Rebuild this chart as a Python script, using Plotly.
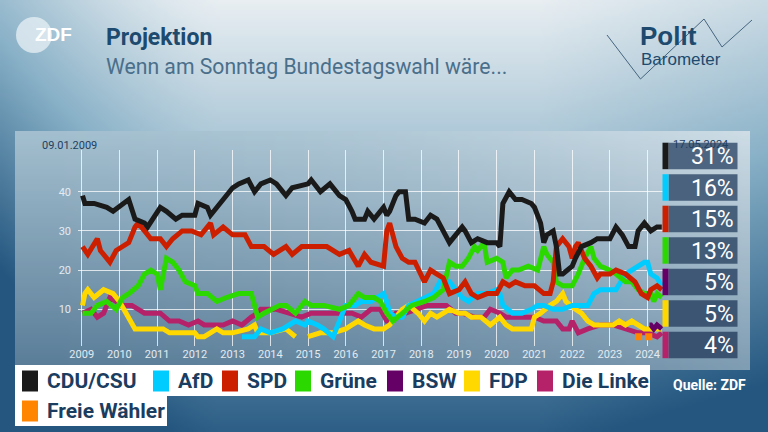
import zlib, struct, base64, datetime as dt
import plotly.graph_objects as go

# ---------------- data ----------------
cdu_dates = ["2009-01-09","2009-02","2009-05","2009-09","2009-11","2010-02","2010-04","2010-06","2010-09","2010-10",
             "2011-02","2011-04","2011-07","2011-09","2012-01","2012-02","2012-05","2012-06","2012-09","2012-11",
             "2013-01","2013-03","2013-06","2013-08","2013-10","2014-01","2014-03","2014-06","2014-08","2015-01",
             "2015-02","2015-05","2015-08","2015-11","2016-01","2016-03","2016-04","2016-07","2016-08","2016-10",
             "2017-01","2017-02","2017-03","2017-05","2017-06","2017-08","2017-09","2017-11","2018-02","2018-04",
             "2018-06","2018-08","2018-10","2018-12","2019-02","2019-03","2019-05","2019-07","2019-10","2020-01",
             "2020-02","2020-03","2020-05","2020-07","2020-09","2020-12","2021-01","2021-03","2021-04","2021-05",
             "2021-07","2021-08","2021-09","2021-10","2022-01","2022-02","2022-04","2022-07","2022-09","2023-01",
             "2023-03","2023-05","2023-07","2023-09","2023-10","2023-12","2024-02","2024-04","2024-05-17"]
cdu_vals = [39,37,37,36,35,37,38,33,32,31,
            36,35,33,34,34,37,36,34,37,39,
            41,42,43,40,42,43,42,39,41,42,
            43,40,42,39,38,35,33,33,35,33,
            36,34,35,39,40,40,33,33,32,34,
            33,30,27,29,31,30,27,28,27,27,
            26,37,40,38,38,37,36,32,27,29,
            30,26,19,19,21,23,26,27,28,28,
            31,29,26,26,30,32,30,31,31]

spd_dates = ["2009-01-09","2009-03","2009-06","2009-07","2009-09","2009-10","2009-12","2010-02","2010-04","2010-06",
             "2010-07","2010-09","2010-11","2011-02","2011-04","2011-06","2011-09","2011-12","2012-03","2012-06",
             "2012-07","2012-10","2013-01","2013-05","2013-07","2013-11","2014-02","2014-06","2014-08","2014-11",
             "2015-02","2015-07","2015-11","2016-02","2016-05","2016-07","2016-09","2017-01","2017-02","2017-03",
             "2017-05","2017-07","2017-09","2017-11","2018-02","2018-04","2018-06","2018-08","2018-10","2019-01",
             "2019-03","2019-05","2019-07","2019-10","2020-01","2020-03","2020-05","2020-07","2020-10","2021-01",
             "2021-04","2021-06","2021-07","2021-08","2021-10","2021-12","2022-01","2022-02","2022-03","2022-05",
             "2022-07","2022-09","2022-10","2023-01","2023-03","2023-06","2023-09","2023-11","2024-01","2024-02",
             "2024-04","2024-05-17"]
spd_vals = [26,24,28,25,23,22,25,26,27,31,
            32,30,28,28,26,28,30,30,29,32,
            29,31,29,29,26,26,24,26,24,26,
            26,26,24,25,21,24,22,21,30,32,
            26,23,22,22,17,20,19,18,14,15,
            17,14,13,14,14,17,16,17,16,16,
            14,14,17,26,28,26,23,26,27,23,
            21,18,19,19,20,19,17,14,13,15,
            16,15]

gruene_dates = ["2009-01-09","2009-04","2009-06","2009-09","2009-12","2010-02","2010-04","2010-07","2010-09","2010-11",
                "2011-01","2011-02","2011-04","2011-06","2011-08","2011-10","2012-01","2012-02","2012-05","2012-08",
                "2012-11","2013-03","2013-07","2013-09","2013-11","2014-04","2014-06","2014-09","2014-12","2015-02",
                "2015-06","2015-11","2016-02","2016-05","2016-07","2016-10","2016-12","2017-02","2017-04","2017-07",
                "2017-10","2018-02","2018-05","2018-08","2018-10","2018-12","2019-02","2019-04","2019-06","2019-07",
                "2019-09","2019-10","2020-01","2020-03","2020-04","2020-06","2020-08","2020-11","2021-02","2021-04",
                "2021-05","2021-07","2021-08","2021-10","2022-01","2022-03","2022-05","2022-07","2022-08","2022-10",
                "2023-01","2023-03","2023-06","2023-08","2023-10","2023-12","2024-02","2024-03","2024-04","2024-05-17"]
gruene_vals = [9,9,11,12,10,13,14,16,19,20,
               19,15,23,22,20,17,16,14,14,12,
               13,14,14,8,9,11,11,9,12,11,
               11,10,11,14,13,13,12,9,7,9,
               11,12,13,15,22,21,21,23,26,25,
               27,22,23,22,18,20,20,21,20,26,
               24,22,17,16,16,19,23,26,23,21,
               20,19,17,17,15,14,14,12,14,13]

afd_dates = ["2013-04","2013-08","2013-10","2014-01","2014-05","2014-07","2014-09","2014-12","2015-01","2015-04",
             "2015-06","2015-09","2015-11","2016-01","2016-04","2016-06","2016-09","2016-11","2017-01","2017-02",
             "2017-03","2017-05","2017-07","2017-09","2017-12","2018-02","2018-05","2018-07","2018-10","2018-12",
             "2019-02","2019-04","2019-07","2019-10","2020-01","2020-02","2020-03","2020-06","2020-09","2020-12",
             "2021-02","2021-04","2021-07","2021-10","2022-01","2022-03","2022-06","2022-08","2022-10","2023-01",
             "2023-03","2023-06","2023-08","2023-10","2023-12","2024-01","2024-02","2024-04","2024-05-17"]
afd_vals = [3,3,5,4,5,6,7,6,7,6,
            5,3,7,11,11,12,12,13,14,12,
            9,8,8,11,12,13,14,17,17,15,
            13,12,14,14,15,14,11,9,9,10,
            11,11,10,10,11,11,11,14,15,15,
            15,19,20,21,22,22,19,18,16]

fdp_dates = ["2009-01-09","2009-02","2009-03","2009-05","2009-08","2009-11","2010-01","2010-03","2010-05","2010-06",
             "2011-03","2011-05","2012-01","2012-02","2012-04","2012-06","2012-08","2012-10","2013-01","2013-06",
             "2013-08","2013-09","2014-01","2014-06","2014-09","2014-10","2015-01","2015-05","2015-09","2016-01",
             "2016-03","2016-05","2016-07","2016-10","2017-01","2017-03","2017-05","2017-07","2017-09","2017-12",
             "2018-02","2018-04","2018-06","2018-08","2018-10","2019-01","2019-03","2019-05","2019-08","2019-11",
             "2020-02","2020-04","2020-06","2020-09","2020-12","2021-01","2021-03","2021-06","2021-08","2021-10",
             "2021-11","2022-02","2022-04","2022-06","2022-08","2022-11","2023-02","2023-04","2023-06","2023-08",
             "2023-10","2023-12","2024-02","2024-05-17"]
fdp_vals = [11,14,15,13,15,14,12,9,6,5,
            5,4,4,3,3,4,5,4,4,5,
            6,4,4,5,3,None,3,4,4,5,
            6,7,6,5,5,6,8,10,11,9,
            7,9,8,9,10,9,9,8,8,6,
            8,6,5,5,5,8,9,11,12,14,
            12,10,9,7,6,6,6,7,6,7,
            6,5,5,5]

linke_dates = ["2009-01-09","2009-04","2009-06","2009-08","2009-10","2009-12","2010-02","2010-05","2010-09","2010-12",
               "2011-02","2011-05","2011-08","2011-11","2012-02","2012-04","2012-07","2012-10","2013-01","2013-04",
               "2013-07","2013-09","2013-10","2014-03","2014-07","2014-11","2015-02","2015-06","2015-11","2016-03",
               "2016-06","2016-09","2016-12","2017-02","2017-03","2017-05","2017-08","2017-11","2018-03","2018-06",
               "2018-09","2018-12","2019-02","2019-06","2019-09","2019-11","2020-02","2020-04","2020-07","2020-10",
               "2021-01","2021-04","2021-08","2021-10","2021-12","2022-01","2022-03","2022-06","2022-10","2023-02",
               "2023-06","2023-10","2024-01","2024-04","2024-05-17"]
linke_vals = [9,10,8,9,13,12,11,11,9,9,
              9,7,7,6,7,6,6,6,7,6,
              8,9,10,10,9,8,9,9,9,9,
              8,10,10,7,7,9,9,10,11,11,
              11,9,9,8,8,10,9,8,8,8,
              8,7,7,5,5,7,4,5,6,6,
              5,4,4,3,4]

bsw_dates = ["2024-01-19","2024-02","2024-03","2024-04","2024-05-17"]
bsw_vals = [6,6,5,6,5]

fw_dates = ["2023-10-06","2024-01-12"]
fw_vals = [3,3]

parties = ["CDU/CSU","AfD","SPD","Grüne","BSW","FDP","Die Linke","Freie Wähler"]
colors = ["#1a1a1a","#00ccff","#cc1f00","#2bd900","#650066","#ffd800","#b5226a","#ff8400"]
latest_pct = [31,16,15,13,5,5,4]
first_date_label = "09.01.2009"
last_date_label = "17.05.2024"
year_ticks = list(range(2009, 2025))
y_ticks = [10, 20, 30, 40]

# ---------------- geometry helpers ----------------
W, H = 768, 432
L, R, T, B = 78, 102, 150, 86
PW, PH = W - L - R, H - T - B
def px(x): return (x - L) / PW
def py(y): return (H - B - y) / PH

def yr2date(y):
    year = int(y)
    s = dt.datetime(year, 1, 1); e = dt.datetime(year + 1, 1, 1)
    return (s + (e - s) * (y - year)).strftime("%Y-%m-%d %H:%M")
X_PER_YEAR = 37.73
X2009 = 81.7
x_range = [yr2date(2009 + (L - X2009) / X_PER_YEAR), yr2date(2009 + (W - R - X2009) / X_PER_YEAR)]
Y0PIX, YPERUNIT = 348.5, 3.92
y_range = [(Y0PIX - (H - B)) / YPERUNIT, (Y0PIX - T) / YPERUNIT]

def png_uri(w, h, fn):
    raw = bytearray()
    for j in range(h):
        raw.append(0)
        for i in range(w):
            raw += bytes(fn(i / (w - 1), j / (h - 1)))
    def chunk(t, d):
        c = struct.pack(">I", len(d)) + t + d
        return c + struct.pack(">I", zlib.crc32(t + d) & 0xffffffff)
    png = (b"\x89PNG\r\n\x1a\n" + chunk(b"IHDR", struct.pack(">IIBBBBB", w, h, 8, 2, 0, 0, 0))
           + chunk(b"IDAT", zlib.compress(bytes(raw))) + chunk(b"IEND", b""))
    return "data:image/png;base64," + base64.b64encode(png).decode()

def hx(c): return tuple(int(c[k:k + 2], 16) for k in (1, 3, 5))
def lerp(a, b, t): return tuple(int(round(a[k] + (b[k] - a[k]) * t)) for k in range(3))

C0, C1, C2 = hx("#e8eef2"), hx("#86afc6"), hx("#24567f")
def ramp(t):
    t = min(max(t, 0.0), 1.0)
    return lerp(C0, C1, t / 0.5) if t < 0.5 else lerp(C1, C2, (t - 0.5) / 0.5)

def bg_fn(u, v):
    x, y = u * W, v * H
    t = 0.95 * y / H
    t += 0.40 * max(0.0, (220 - x) / 220) ** 1.4
    t += 0.15 * max(0.0, (x - 540) / 228)
    return ramp(t)

PT_L, PT_R, PB_L, PB_R = hx("#a3bfcf"), hx("#cddce5"), hx("#5a7d98"), hx("#7f9db3")
def panel_fn(u, v):
    top = lerp(PT_L, PT_R, u ** 1.6)
    bot = lerp(PB_L, PB_R, u ** 1.6)
    return lerp(top, bot, v)

fig = go.Figure()

series = [
    (linke_dates, linke_vals, 6), (fdp_dates, fdp_vals, 5), (afd_dates, afd_vals, 1),
    (gruene_dates, gruene_vals, 3), (spd_dates, spd_vals, 2), (cdu_dates, cdu_vals, 0),
    (bsw_dates, bsw_vals, 4),
]
for d, v, k in series:
    fig.add_trace(go.Scatter(x=d, y=v, mode="lines", name=parties[k],
                             line=dict(color=colors[k], width=5), showlegend=False, connectgaps=False))
fig.add_trace(go.Scatter(x=fw_dates, y=fw_vals, mode="markers", name=parties[7],
                         marker=dict(color=colors[7], symbol="square", size=7), showlegend=False))

shapes, annos, images = [], [], []
images.append(dict(source=png_uri(192, 108, bg_fn), xref="paper", yref="paper", x=px(0), y=py(0),
                   sizex=W / PW, sizey=H / PH, sizing="stretch", xanchor="left", yanchor="top", layer="below"))
images.append(dict(source=png_uri(147, 48, panel_fn), xref="paper", yref="paper", x=px(15), y=py(131),
                   sizex=(750 - 15) / PW, sizey=(370 - 131) / PH, sizing="stretch", xanchor="left", yanchor="top",
                   layer="below"))

def rect(x0, y0, x1, y1, fill):
    shapes.append(dict(type="rect", xref="paper", yref="paper", x0=px(x0), x1=px(x1), y0=py(y1), y1=py(y0),
                       fillcolor=fill, line=dict(width=0), layer="above"))
def text(x, y, s, size, color, anchor="left", family="Roboto, Liberation Sans, sans-serif"):
    annos.append(dict(xref="paper", yref="paper", x=px(x), y=py(y), text=s, showarrow=False,
                      xanchor=anchor, yanchor="middle", font=dict(size=size, color=color, family=family)))

# header
shapes.append(dict(type="circle", xref="paper", yref="paper", x0=px(16), x1=px(52), y0=py(53), y1=py(17),
                   fillcolor="rgba(232,240,245,0.75)", line=dict(width=0), layer="above"))
text(33, 35, "<b>ZDF</b>", 19, "white", family="Liberation Sans, sans-serif")
text(104, 37, "<b>Projektion</b>", 23, "#1d4a6e")
text(104, 66, "Wenn am Sonntag Bundestagswahl wäre...", 21.2, "#4a6f8b")
shapes.append(dict(type="path", xref="paper", yref="paper",
                   path="M {} {} L {} {} L {} {} L {} {} L {} {}".format(px(607), py(35), px(640.5), py(79),
                                                                       px(704), py(19), px(722), py(47),
                                                                       px(752), py(20)),
                   line=dict(color="#46657f", width=1), layer="above"))
text(638, 36, "<b>Polit</b>", 26, "#1d4a6e", family="Liberation Sans, sans-serif")
text(639, 59, "Barometer", 17, "#1d4a6e", family="Liberation Sans, sans-serif")

# date labels
text(40, 145, first_date_label, 11, "#1f405f")
text(671, 144, last_date_label, 11, "#1f405f")

# value boxes
for i, pct in enumerate(latest_pct):
    y0 = 142.7 + i * 31.5
    y1 = y0 + 26.5
    rect(668.5, y0, 737.5, y1, "rgb({},{},{})".format(*lerp(hx("#4d6580"), hx("#38526f"), i / 6)))
    rect(662.5, y0, 668.5, y1, colors[i])
    text(736, (y0 + y1) / 2 + 1, f"{pct}%", 23, "white", anchor="right")

# legend
rect(15, 365, 650, 396, "white")
rect(15, 396, 167, 426, "white")
leg_pos = [(22, 381), (153, 381), (222, 381), (295, 381), (387, 381), (464, 381), (537, 381), (22, 411)]
for k, (lx, ly) in enumerate(leg_pos):
    rect(lx, ly - 10.5, lx + 16, ly + 10.5, colors[k])
    text(lx + 23, ly, "<b>" + parties[k] + "</b>", 21, "#1b3d5f")
text(748, 385, "<b>Quelle: ZDF</b>", 14, "white", anchor="right")

fig.update_layout(
    width=W, height=H, margin=dict(l=L, r=R, t=T, b=B, pad=0),
    paper_bgcolor="#5f87a6", plot_bgcolor="rgba(0,0,0,0)",
    shapes=shapes, annotations=annos, images=images, showlegend=False,
    font=dict(family="Roboto, Liberation Sans, sans-serif"),
    xaxis=dict(type="date", range=x_range, tickvals=[f"{y}-01-01" for y in year_ticks],
               ticktext=[str(y) for y in year_ticks], showgrid=True, gridcolor="rgba(255,255,255,0.75)",
               gridwidth=1, zeroline=False, showline=False, ticks="",
               tickfont=dict(size=11, color="#e3ebf1")),
    yaxis=dict(range=y_range, tickvals=y_ticks, showgrid=True, gridcolor="rgba(255,255,255,0.75)",
               gridwidth=1, zeroline=False, showline=False, ticks="", ticklabelstandoff=6,
               tickfont=dict(size=11, color="#e3ebf1")),
)
fig.write_html("out.html", config={"displayModeBar": False},
               post_script="document.body.style.margin='0';document.body.style.overflow='hidden';")
